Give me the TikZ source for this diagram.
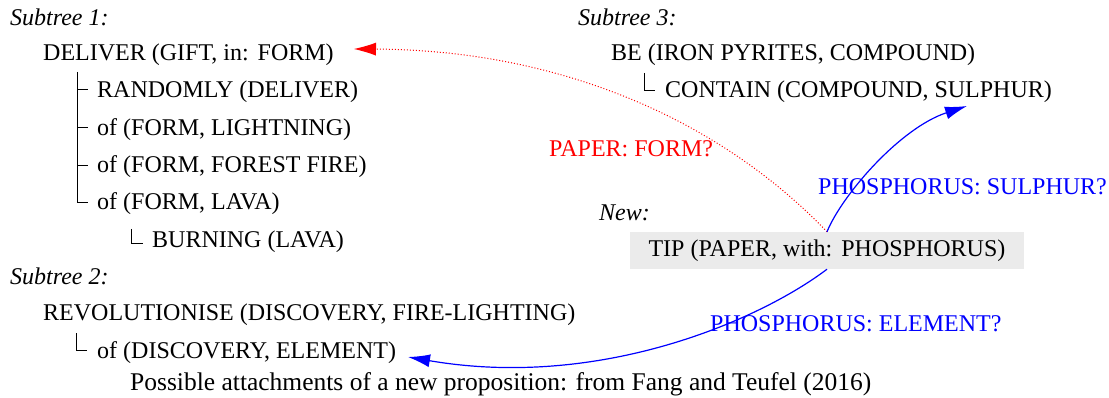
\documentclass[tikz,border=0pt]{standalone}
\usepackage{fontspec}
\setmainfont{Liberation Serif}
\usetikzlibrary{arrows.meta}
\newcommand{\csp}{\hspace{9pt}}
\begin{document}
\begin{tikzpicture}[x=1pt,y=-1pt,
  txt/.style={anchor=base west,inner sep=0pt,font=\fontsize{24}{29}\selectfont},
  ital/.style={txt,font=\fontsize{24}{29}\selectfont\itshape},
  treeline/.style={line width=0.9pt},
  redarrow/.style={red,line width=1pt,dotted,-{Latex[length=22pt,width=13pt,line width=0pt]}},
  bluearrow/.style={blue,line width=1.2pt,-{Latex[length=22pt,width=13pt]}},
  newbox/.style={fill=black!8,inner xsep=15pt,inner ysep=0pt,minimum height=37pt,font=\fontsize{24}{29}\selectfont}]
\useasboundingbox (0,0) rectangle (1109,398);
% Subtree 1
\node[ital] (s1) at (10,26) {Subtree 1:};
\node[txt] (deliver) at (43,61) {DELIVER (GIFT, in:\csp FORM)};
\node[txt] (rand) at (97,98) {RANDOMLY (DELIVER)};
\node[txt] (light) at (97,136) {of (FORM, LIGHTNING)};
\node[txt] (forest) at (97,173) {of (FORM, FOREST FIRE)};
\node[txt] (lava) at (97,210) {of (FORM, LAVA)};
\node[txt] (burn) at (152,248) {BURNING (LAVA)};
\coordinate (t1) at (77,72);
\coordinate (t2) at (77,202);
\draw[treeline] (t1) -- (t2) -- (88,202);
\draw[treeline] (77,89) -- (88,89);
\draw[treeline] (77,127) -- (88,127);
\draw[treeline] (77,165) -- (88,165);
\draw[treeline] (131,229) -- (131,243) -- (143,243);
% Subtree 2
\node[ital] (s2) at (10,284) {Subtree 2:};
\node[txt] (revol) at (43,320) {REVOLUTIONISE (DISCOVERY, FIRE-LIGHTING)};
\node[txt] (disc) at (97,358) {of (DISCOVERY, ELEMENT)};
\draw[treeline] (76,333) -- (76,350) -- (87,350);
% Subtree 3
\node[ital] (s3) at (578,26) {Subtree 3:};
\node[txt] (be) at (611,61) {BE (IRON PYRITES, COMPOUND)};
\node[txt] (contain) at (665,98) {CONTAIN (COMPOUND, SULPHUR)};
\draw[treeline] (644,73) -- (644,90) -- (655,90);
% New
\node[ital] (new) at (599,221) {New:};
\node[newbox,minimum width=394pt] (tip) at (827,250.5) {TIP (PAPER, with:\csp PHOSPHORUS)};
% labels
\node[txt,red] (lpaper) at (549,157) {PAPER: FORM?};
\node[txt,blue] (lsulph) at (818,195) {PHOSPHORUS: SULPHUR?};
\node[txt,blue] (lelem) at (710,331) {PHOSPHORUS: ELEMENT?};
% targets
\coordinate (redend) at (354,49);
\coordinate (sulend) at (967,106);
\coordinate (elemend) at (408,357);
\draw[redarrow] (tip.north) .. controls (720,120) and (560,50) .. (redend);
\draw[bluearrow] (tip.north) .. controls (842,195) and (900,128) .. (sulend);
\draw[bluearrow] (tip.south) .. controls (760,320) and (600,390) .. (elemend);
% caption
\node[txt,font=\fontsize{25.5}{30}\selectfont] (cap) at (130,390) {Possible attachments of a new proposition: from Fang and Teufel (2016)};
\end{tikzpicture}
\end{document}
